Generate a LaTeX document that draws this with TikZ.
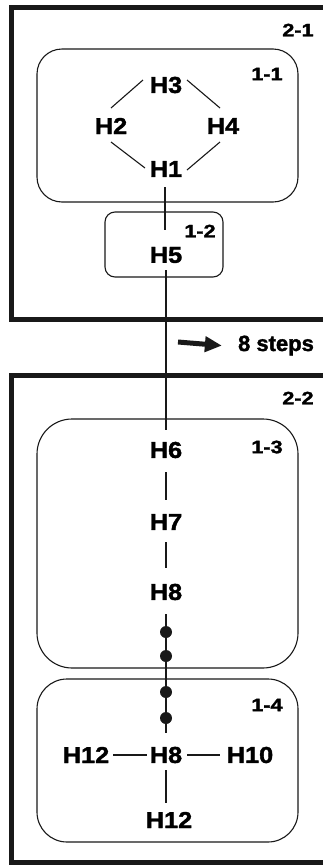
\documentclass[tikz,border=0pt]{standalone}
\usepackage{fontspec}
\setmainfont{Liberation Sans}[BoldFeatures={FakeBold=1.6}]
\usetikzlibrary{calc,arrows.meta}
\tikzset{
  hlab/.style={inner sep=0pt, font=\fontsize{23}{23}\selectfont\bfseries},
  slab/.style={inner sep=0pt, font=\fontsize{18}{18}\selectfont\bfseries},
  bond/.style={line width=1.1pt, draw=black!90},
  outerbox/.style={draw=black!90, line width=5pt},
  innerbox/.style={draw=black!90, line width=1.1pt},
  dotnode/.style={circle, fill=black!90, inner sep=0pt, minimum size=12pt},
  bigarrow/.style={line width=5pt, draw=black!90, -{Triangle[length=17pt,width=15pt]}}
}
\newcommand{\hx}[1]{\scalebox{1.1}[1]{#1}}
\newcommand{\sx}[1]{\scalebox{1.2}[1]{#1}}
\begin{document}
\begin{tikzpicture}[x=1pt,y=-1pt]
\clip (0,0) rectangle (323,865);
\fill[white] (0,0) rectangle (323,865);
% outer boxes
\draw[outerbox] (11,7) rectangle (345,319);
\draw[outerbox] (11,375) rectangle (345,862);
% inner rounded boxes
\draw[innerbox, rounded corners=25pt] (37,49) rectangle (298,202);
\draw[innerbox, rounded corners=10pt] (105,212) rectangle (223,277);
\draw[innerbox, rounded corners=35pt] (37,419) rectangle (298,668);
\draw[innerbox, rounded corners=30pt] (37,679) rectangle (298,842);
% box labels
\node[slab] (l21) at (298,30) {\sx{2-1}};
\node[slab] (l11) at (267,74) {\sx{1-1}};
\node[slab] (l12) at (200,231) {\sx{1-2}};
\node[slab] (l22) at (298,398) {\sx{2-2}};
\node[slab] (l13) at (267,447) {\sx{1-3}};
\node[slab] (l14) at (267,705) {\sx{1-4}};
% atoms
\node[hlab] (H3) at (166,85) {\hx{H3}};
\node[hlab] (H2) at (111,126) {\hx{H2}};
\node[hlab] (H4) at (223,126) {\hx{H4}};
\node[hlab] (H1) at (166,169) {\hx{H1}};
\node[hlab] (H5) at (166,255) {\hx{H5}};
\node[hlab] (H6) at (166,450) {\hx{H6}};
\node[hlab] (H7) at (166,522) {\hx{H7}};
\node[hlab] (H8a) at (166,592) {\hx{H8}};
\node[hlab] (H12a) at (86,755) {\hx{H12}};
\node[hlab] (H8b) at (166,755) {\hx{H8}};
\node[hlab] (H10) at (250,755) {\hx{H10}};
\node[hlab] (H12b) at (169,820) {\hx{H12}};
% dots
\node[dotnode] (d1) at (166,632) {};
\node[dotnode] (d2) at (166,656) {};
\node[dotnode] (d3) at (166,692) {};
\node[dotnode] (d4) at (166,718) {};
% bonds
\draw[bond] ($(H3)+(-23,-5)$) -- ($(H2)+(0,-18)$);
\draw[bond] ($(H3)+(21,-5)$) -- ($(H4)+(-3,-18)$);
\draw[bond] ($(H2)+(0,16)$) -- ($(H1)+(-21,-1)$);
\draw[bond] ($(H4)+(-3,16)$) -- ($(H1)+(21,1)$);
\draw[bond] ($(H1)+(-1,18)$) -- ($(H5)+(-1,-25)$);
\draw[bond] ($(H5)+(0,15)$) -- ($(H6)+(0,-20)$);
\draw[bond] ($(H6)+(0,22)$) -- ($(H7)+(0,-22)$);
\draw[bond] ($(H7)+(0,20)$) -- ($(H8a)+(0,-24)$);
\draw[bond] ($(H8a)+(0,22)$) -- (d1.center) -- (d2.center) -- (d3.center) -- (d4.center) -- ($(H8b)+(0,-22)$);
\draw[bond] ($(H12a)+(27,0)$) -- ($(H8b)+(-19,0)$);
\draw[bond] ($(H8b)+(21,0)$) -- ($(H10)+(-30,0)$);
\draw[bond] ($(H8b)+(0,15)$) -- ($(H12b)+(-3,-17)$);
% step arrow
\node[inner sep=0pt, anchor=base, font=\fontsize{22}{22}\selectfont\bfseries] (steps) at (276,351) {8 steps};
\coordinate (arrtail) at (178,342);
\draw[bigarrow] (arrtail) -- ($(steps.west)+(-16,0)$ |- arrtail);
\end{tikzpicture}
\end{document}
